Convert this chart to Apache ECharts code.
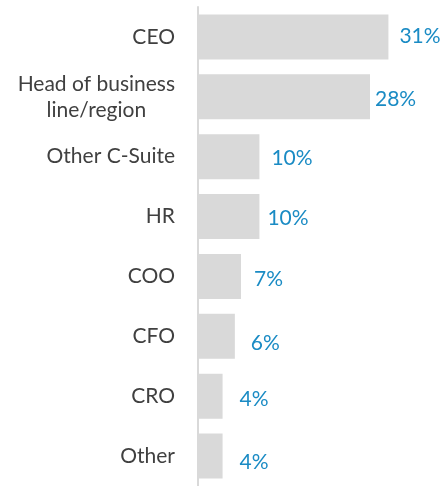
<!DOCTYPE html>
<html>
<head>
<meta charset="utf-8">
<script src="https://cdn.jsdelivr.net/npm/echarts@6/dist/echarts.min.js"></script>
<style>
  html, body { margin: 0; padding: 0; background: #fff; }
  #main { width: 440px; height: 486px; }
</style>
</head>
<body>
<div id="main"></div>
<script>
const roles = ['CEO', 'Head of business\nline/region', 'Other C-Suite', 'HR', 'COO', 'CFO', 'CRO', 'Other']
const shares = [31, 28, 10, 10, 7, 6, 4, 4]
// nudges for the value labels, as placed in the original
const labelShift = [[1, -1], [-5, 2], [2, 2], [-2, 2], [3, 3], [6, 7], [7, 3], [7, 6]]

const chart = echarts.init(document.getElementById('main'))

const option = {
  animation: false,
  grid: {
    left: 198,
    right: 27,
    top: 7,
    height: 482
  },
  xAxis: {
    type: 'value',
    min: 0,
    max: 35,
    show: false
  },
  yAxis: {
    type: 'category',
    data: roles,
    inverse: true,
    axisLine: { lineStyle: { color: '#d9d9d9', width: 2 } },
    axisTick: { show: false },
    axisLabel: {
      margin: 23,
      color: '#404040',
      fontFamily: 'Lato',
      fontSize: 21,
      lineHeight: 26,
      // two-line label is centred within itself
      formatter: v => v.split('\n').map(s => '{c|' + s + '}').join('\n'),
      rich: {
        c: { align: 'center', color: '#404040', fontFamily: 'Lato', fontSize: 21, lineHeight: 26 }
      }
    }
  },
  series: [{
    type: 'bar',
    data: shares.map((v, i) => ({ value: v, label: { offset: labelShift[i] } })),
    barCategoryGap: '25%',
    itemStyle: { color: '#d9d9d9' },
    label: {
      show: true,
      position: 'right',
      distance: 10,
      color: '#1a8bc4',
      fontFamily: 'Lato',
      fontSize: 21,
      formatter: p => p.value + '%'
    }
  }]
}

chart.setOption(option)
</script>
</body>
</html>
